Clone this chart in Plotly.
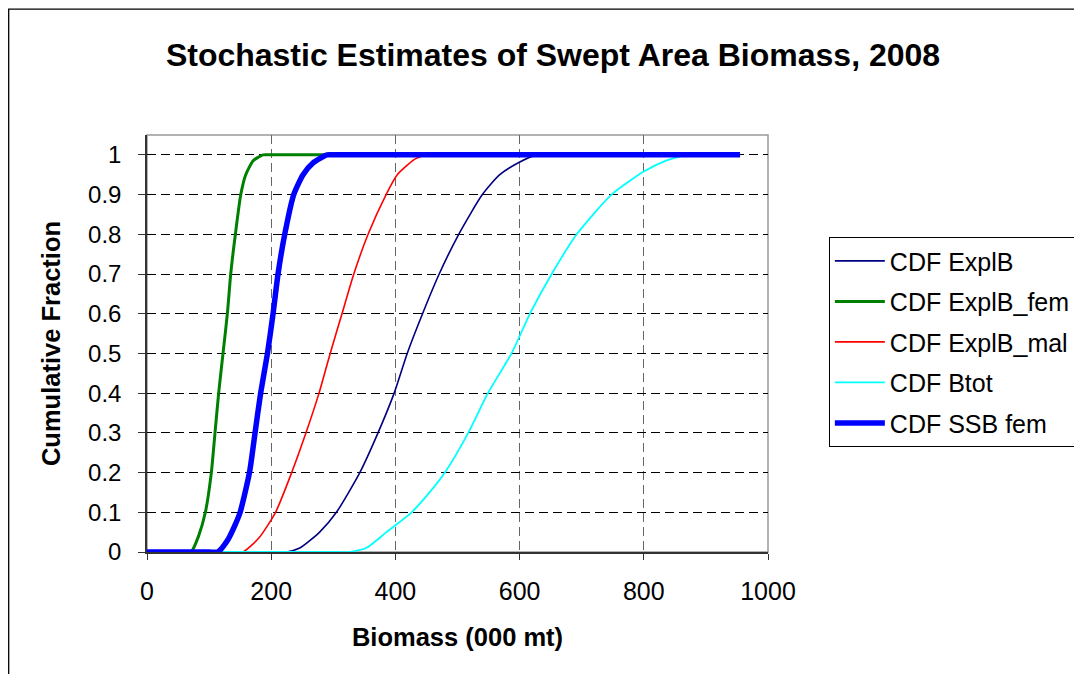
import plotly.graph_objects as go

# ---- data (Biomass in 000 mt, cumulative fraction) ----
explb_x = [0, 210, 224, 246, 278, 305, 342.7, 372, 398, 419, 443.7, 470.5, 502, 540, 568, 598, 627, 640, 955]
explb_y = [0, 0, 0, 0.01, 0.05, 0.1, 0.2, 0.3, 0.4, 0.5, 0.6, 0.7, 0.8, 0.9, 0.95, 0.98, 1, 1, 1]

fem_x = [0, 60, 71, 83, 94, 103.6, 109.5, 115.4, 122.4, 129.4, 134.8, 142.3, 151, 159, 171, 187, 200, 955]
fem_y = [0, 0, 0, 0.04, 0.1, 0.2, 0.3, 0.4, 0.5, 0.6, 0.7, 0.8, 0.9, 0.95, 0.985, 1, 1, 1]

mal_x = [0, 140, 154.6, 180, 207, 233, 256, 277, 295, 314, 333, 356, 385, 403, 432, 450, 465, 955]
mal_y = [0, 0, 0, 0.035, 0.1, 0.2, 0.3, 0.4, 0.5, 0.6, 0.7, 0.8, 0.9, 0.95, 0.99, 1, 1, 1]

btot_x = [0, 310, 326.6, 353, 385.7, 426, 455, 479.7, 517.3, 549, 587, 616.7, 651.7, 692, 748, 800, 835, 870, 885, 955]
btot_y = [0, 0, 0, 0.01, 0.05, 0.1, 0.15, 0.2, 0.3, 0.4, 0.5, 0.6, 0.7, 0.8, 0.9, 0.958, 0.985, 1, 1, 1]

ssb_x = [0, 100, 114, 130, 141, 150, 165, 174, 183, 194, 203, 211, 221.8, 236.3, 251.3, 267.4, 290, 305, 955]
ssb_y = [0, 0, 0, 0.03, 0.065, 0.1, 0.2, 0.3, 0.4, 0.5, 0.6, 0.7, 0.8, 0.9, 0.95, 0.98, 1, 1, 1]

series_names = ["CDF ExplB", "CDF ExplB_fem", "CDF ExplB_mal", "CDF Btot", "CDF SSB fem"]

x_ticks = [0, 200, 400, 600, 800, 1000]
y_ticks = [0, 0.1, 0.2, 0.3, 0.4, 0.5, 0.6, 0.7, 0.8, 0.9, 1]
y_tick_text = ["0", "0.1", "0.2", "0.3", "0.4", "0.5", "0.6", "0.7", "0.8", "0.9", "1"]

title_text = "Stochastic Estimates of Swept Area Biomass, 2008"
x_title = "Biomass (000 mt)"
y_title = "Cumulative Fraction"

# ---- styling ----
FONT = "Liberation Sans, Arial, sans-serif"
styles = [
    dict(color="#000080", width=1.6),
    dict(color="#008000", width=3),
    dict(color="#FF0000", width=1.6),
    dict(color="#00FFFF", width=1.8),
    dict(color="#0000FF", width=5.5),
]
data = [(explb_x, explb_y), (fem_x, fem_y), (mal_x, mal_y), (btot_x, btot_y), (ssb_x, ssb_y)]

fig = go.Figure()
for (xs, ys), name, st in zip(data, series_names, styles):
    fig.add_trace(go.Scatter(x=xs, y=ys, mode="lines", name=name,
                             line=dict(shape="spline", smoothing=0.6, **st),
                             legendgroup=name))

# the page body adds an 8px offset, so the figure is 8px smaller and shifted
W, H = 1074, 666
L, T, B = 139, 127, 122
R = W - L - 621

fig.update_layout(
    width=W, height=H,
    paper_bgcolor="white", plot_bgcolor="white",
    margin=dict(l=L, r=R, t=T, b=B, pad=0, autoexpand=False),
    font=dict(family=FONT, color="black", size=25),
    title=dict(text="<b>" + title_text + "</b>", x=545 / W, xref="container", xanchor="center",
               y=1 - 47 / H, yref="container", yanchor="middle",
               font=dict(size=32, family=FONT, color="black")),
    showlegend=True,
    legend=dict(x=1.098, xanchor="left", y=0.755, yanchor="top",
                bordercolor="black", borderwidth=1, bgcolor="white",
                font=dict(size=25, family=FONT), tracegroupgap=5, itemwidth=50),
)

fig.update_xaxes(range=[0, 1000], tickvals=x_ticks, ticktext=[str(v) for v in x_ticks],
                 showline=True, linecolor="#333333", linewidth=1.5,
                 ticks="outside", ticklen=6, tickcolor="#333333",
                 showgrid=True, gridcolor="#666666", griddash="9px,5px", gridwidth=1,
                 zeroline=False, tickfont=dict(size=25), ticklabelstandoff=10,
                 automargin=False,
                 title=dict(text="<b>" + x_title + "</b>", font=dict(size=25.5), standoff=24))
fig.update_yaxes(range=[0, 1.05], tickvals=y_ticks, ticktext=y_tick_text,
                 showline=True, linecolor="#333333", linewidth=1.5,
                 ticks="outside", ticklen=7, tickcolor="#333333",
                 showgrid=True, gridcolor="black", griddash="9px,5px", gridwidth=1,
                 zeroline=False, tickfont=dict(size=24), ticklabelstandoff=12,
                 automargin=False,
                 title=dict(text="<b>" + y_title + "</b>", font=dict(size=25.5), standoff=20))

# plot-area frame (gray) and outer chart border
fig.add_shape(type="rect", xref="paper", yref="paper", x0=0, x1=1, y0=0, y1=1,
              line=dict(color="#999999", width=1.5), layer="below")
fig.add_shape(type="rect", xref="paper", yref="paper",
              x0=(0.7 - L) / 621, x1=1.8, y0=-0.6, y1=(544 - 1.2) / 417,
              line=dict(color="black", width=1.3), layer="below")

fig.write_html("out.html")
